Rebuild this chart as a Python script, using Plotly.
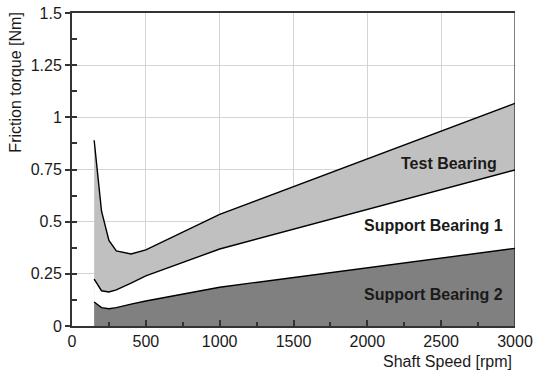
import plotly.graph_objects as go

# Friction torque vs. shaft speed for the three bearings (stacked contributions)
speed_rpm = [150, 200, 250, 300, 400, 500, 1000, 3000]
test_bearing = [0.89, 0.55, 0.41, 0.36, 0.345, 0.365, 0.535, 1.067]
support_bearing_1 = [0.225, 0.169, 0.163, 0.173, 0.205, 0.24, 0.369, 0.748]
support_bearing_2 = [0.115, 0.088, 0.083, 0.088, 0.105, 0.12, 0.186, 0.372]

x_ticks = [0, 500, 1000, 1500, 2000, 2500, 3000]
y_ticks = [0, 0.25, 0.5, 0.75, 1, 1.25, 1.5]
y_tick_text = ["0", "0.25", "0.5", "0.75", "1", "1.25", "1.5"]

region_labels = ["Test Bearing", "Support Bearing 1", "Support Bearing 2"]
label_x = [2553, 2445, 2448]
label_y = [0.781, 0.484, 0.149]

FONT = "Liberation Sans, Arial, sans-serif"
TXT = "#1a1a1a"
FS = 16

fig = go.Figure()
for vals, fillc in [(test_bearing, "#c0c0c0"),
                    (support_bearing_1, "#ffffff"),
                    (support_bearing_2, "#808080")]:
    fig.add_trace(go.Scatter(
        x=speed_rpm, y=vals, mode="lines", fill="tozeroy",
        fillcolor=fillc, line=dict(color="#000000", width=1.4),
        hoverinfo="skip", showlegend=False,
    ))

for txt, lx, ly in zip(region_labels, label_x, label_y):
    fig.add_annotation(x=lx, y=ly, text="<b>%s</b>" % txt, showarrow=False,
                       font=dict(family=FONT, size=FS, color=TXT),
                       xanchor="center", yanchor="middle")

# axis titles
fig.add_annotation(x=1.0, xref="paper", xanchor="right", xshift=-1,
                   y=-0.115, yref="paper", yanchor="middle",
                   text="Shaft Speed [rpm]", showarrow=False,
                   font=dict(family=FONT, size=FS, color=TXT))
fig.add_annotation(x=-0.127, xref="paper", xanchor="center",
                   y=1.165, yref="y", yanchor="middle", textangle=-90,
                   text="Friction torque [Nm]", showarrow=False,
                   font=dict(family=FONT, size=FS, color=TXT))

# thin right border
fig.add_shape(type="line", xref="x", yref="paper", x0=3000, x1=3000, y0=0, y1=1,
              line=dict(color="#000000", width=1))

fig.update_layout(
    width=537, height=377,
    margin=dict(l=72, r=22, t=13, b=51),
    paper_bgcolor="white", plot_bgcolor="white",
    font=dict(family=FONT, size=FS, color=TXT),
    xaxis=dict(range=[0, 3000], tickvals=x_ticks, ticks="inside", ticklen=6,
               tickcolor="#333333", tickwidth=1.5, automargin=False,
               minor=dict(dtick=250, tick0=0, ticks="inside", ticklen=4,
                          tickcolor="#333333", showgrid=False),
               showgrid=True, gridcolor="#d4d4d4", gridwidth=1,
               showline=True, linecolor="#333333", linewidth=2, mirror=True,
               zeroline=False, tickfont=dict(size=FS, color=TXT)),
    yaxis=dict(range=[0, 1.5], tickvals=y_ticks, ticktext=y_tick_text,
               ticks="outside", ticklen=5, tickcolor="#333333", tickwidth=1.5,
               automargin=False,
               showgrid=True, gridcolor="#d4d4d4", gridwidth=1,
               showline=True, linecolor="#333333", linewidth=2,
               zeroline=False, tickfont=dict(size=FS, color=TXT)),
    yaxis2=dict(range=[0, 1.5], overlaying="y", matches="y", side="left",
                tickvals=y_ticks, ticks="inside", ticklen=5, automargin=False,
                tickcolor="#333333", tickwidth=1.5, showticklabels=False,
                minor=dict(dtick=0.125, tick0=0, ticks="inside", ticklen=5,
                           tickcolor="#333333", showgrid=False),
                showgrid=False, zeroline=False, showline=False),
)

# invisible trace to activate the overlay axis used for inner tick marks
fig.add_trace(go.Scatter(x=[0], y=[0], yaxis="y2", mode="markers",
                         marker=dict(opacity=0), hoverinfo="skip",
                         showlegend=False))

fig.write_html("out.html")
